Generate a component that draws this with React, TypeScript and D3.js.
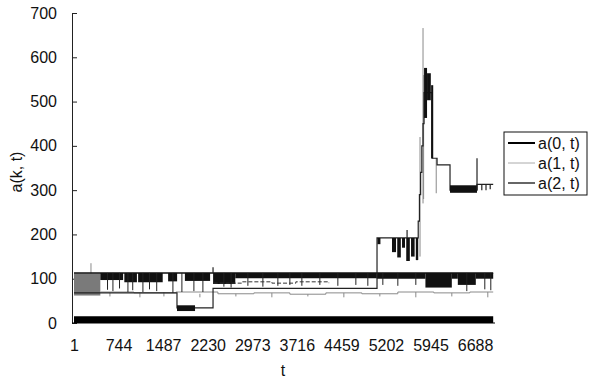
import { useEffect, useRef } from "react";
import * as d3 from "d3";

const tTicks = [1, 744, 1487, 2230, 2973, 3716, 4459, 5202, 5945, 6688];
const yTicks = [0, 100, 200, 300, 400, 500, 600, 700];
const legendNames = ["a(0, t)", "a(1, t)", "a(2, t)"];

// a(0, t) stays close to zero: [tStart, tEnd, low, high]
const a0Bands = [[1, 6990, 0, 15]];

// a(1, t): dense start, then a thin trace near 70
const a1Bands = [[1, 440, 62, 112]];
const a1Trace = [
  [440, 70], [1000, 68], [1700, 70], [2400, 66], [3000, 68], [3600, 65],
  [4200, 68], [4800, 66], [5400, 70], [6000, 68], [6600, 70], [6990, 70],
];
// vertical excursions [t, from, to]
const a1Drops = [
  [284, 112, 135], [600, 68, 60], [1100, 68, 58], [1500, 70, 60], [2100, 66, 58],
  [2700, 66, 60], [3300, 68, 58], [3900, 65, 60], [4500, 68, 58], [5100, 66, 60],
  [5700, 70, 58], [6300, 68, 60], [6900, 70, 58],
  [5770, 150, 420], [5820, 270, 666], [5830, 280, 560], [6040, 372, 293],
];

// a(2, t): upper band that oscillates under 113
const upperTop = [[1, 113], [6990, 113]];
const upperBlocks = [
  [440, 820, 97], [840, 1050, 92], [1070, 1480, 92], [1570, 1720, 94],
  [1850, 2270, 95], [2320, 2690, 88], [2690, 5050, 101], [5050, 5860, 100],
  [5860, 6300, 80], [6300, 6400, 100], [6400, 6700, 86], [6700, 6990, 100],
];
const upperDips = [
  [560, 75], [650, 72], [760, 78], [900, 70], [980, 74], [1150, 70], [1260, 76],
  [1380, 72], [1650, 68], [1800, 70], [2000, 72], [2150, 70], [2500, 82], [2620, 80],
  [2900, 84], [3150, 82], [3400, 84], [3600, 86], [3800, 84], [4100, 86], [4400, 84],
  [4700, 86], [4900, 84], [5150, 86], [5400, 84], [5700, 86], [6550, 72], [6850, 76],
  [6950, 74],
];
const midTrace = [[2330, 90], [2800, 93], [3300, 90], [3700, 93], [4250, 90]];

// a(2, t): main step path [t, value]
const a2Steps = [
  [1, 68], [1718, 34], [2319, 78], [5053, 192], [5740, 230], [5760, 290],
  [5780, 340], [5800, 400], [5820, 450], [5837, 520], [5971, 372], [6054, 357],
  [6270, 300], [6720, 313], [6990, 313],
];
const a2Blocks = [
  [1718, 2019, 27, 40], [5060, 5110, 178, 192],
  [5303, 5370, 160, 192], [5390, 5450, 148, 192], [5470, 5520, 170, 192],
  [5540, 5600, 140, 192], [5620, 5680, 150, 192], [5700, 5740, 142, 192],
  [5837, 5887, 463, 576], [5887, 5950, 503, 564], [5955, 5990, 372, 537],
  [6270, 6720, 294, 311],
];
const a2Spikes = [
  [2319, 113, 126], [5554, 192, 210], [6720, 300, 372], [6800, 313, 300],
  [6870, 313, 300], [6940, 313, 302],
];

const FONT = "'Liberation Sans', Arial, sans-serif";

const App = () => {
  const svgRef = useRef<SVGSVGElement>(null);

  useEffect(() => {
    if (!svgRef.current) return;
    const svg = d3.select(svgRef.current);
    svg.selectAll("*").remove();

    const x = d3.scaleLinear().domain([1, 7020]).range([74, 495]);
    const y = d3.scaleLinear().domain([0, 700]).range([323, 13]);

    const band = d3
      .area<number[]>()
      .x((d) => x(d[0]))
      .y0((d) => y(d[1]))
      .y1((d) => y(d[2]));
    const line = d3
      .line<number[]>()
      .x((d) => x(d[0]))
      .y((d) => y(d[1]));
    const stepLine = d3
      .line<number[]>()
      .x((d) => x(d[0]))
      .y((d) => y(d[1]))
      .curve(d3.curveStepAfter);

    const drawBands = (rows: number[][], color: string) => {
      svg
        .append("g")
        .selectAll("path")
        .data(rows)
        .join("path")
        .attr("d", (r) => band([[r[0], r[2], r[3]], [r[1], r[2], r[3]]]))
        .attr("fill", color);
    };
    const drawVerticals = (rows: number[][], color: string, w: number) => {
      svg
        .append("g")
        .selectAll("path")
        .data(rows)
        .join("path")
        .attr("d", (r) => line([[r[0], r[1]], [r[0], r[2]]]))
        .attr("stroke", color)
        .attr("stroke-width", w)
        .attr("fill", "none");
    };

    // axes
    svg
      .append("g")
      .attr("transform", "translate(72,0)")
      .call(d3.axisLeft(y).tickValues(yTicks).tickSizeInner(-5).tickSizeOuter(0).tickPadding(15))
      .call((g) => g.selectAll("text").attr("font-size", 16).attr("font-family", FONT).attr("fill", "#111"))
      .call((g) => g.selectAll("line,path").attr("stroke", "#222"));
    svg
      .append("g")
      .attr("transform", "translate(0,323)")
      .call(d3.axisBottom(x).tickValues(tTicks).tickFormat(d3.format("d")).tickSize(0).tickPadding(17))
      .call((g) => g.select(".domain").remove())
      .call((g) => g.selectAll("text").attr("font-size", 16).attr("font-family", FONT).attr("fill", "#111"));
    svg
      .append("line")
      .attr("x1", 72).attr("x2", 495).attr("y1", y(0)).attr("y2", y(0))
      .attr("stroke", "#000");

    svg
      .append("text")
      .attr("x", 283).attr("y", 370)
      .attr("text-anchor", "middle").attr("dominant-baseline", "central")
      .attr("font-size", 16).attr("font-family", FONT).attr("fill", "#111")
      .text("t");
    svg
      .append("text")
      .attr("transform", "translate(16,172) rotate(-90)")
      .attr("text-anchor", "middle").attr("dominant-baseline", "central")
      .attr("font-size", 16).attr("font-family", FONT).attr("fill", "#111")
      .text("a(k, t)");

    // a(1, t)
    drawBands(a1Bands, "#7a7a7a");
    svg.append("path").attr("d", stepLine(a1Trace)).attr("stroke", "#8a8a8a").attr("fill", "none");
    drawVerticals(a1Drops, "#8a8a8a", 1);

    // a(2, t) upper band
    svg.append("path").attr("d", stepLine(upperTop)).attr("stroke", "#111").attr("stroke-width", 1.5).attr("fill", "none");
    drawBands(upperBlocks.map((r) => [r[0], r[1], r[2], 113]), "#111");
    drawVerticals(upperDips.map((r) => [r[0], 113, r[1]]), "#222", 1);
    svg.append("path").attr("d", stepLine(midTrace)).attr("stroke", "#333").attr("stroke-dasharray", "4,2").attr("fill", "none");

    // a(2, t) main path
    svg.append("path").attr("d", stepLine(a2Steps)).attr("stroke", "#222").attr("stroke-width", 1.2).attr("fill", "none");
    drawBands(a2Blocks, "#111");
    drawVerticals(a2Spikes, "#222", 1.2);

    // a(0, t)
    drawBands(a0Bands, "#000");

    // legend
    const lg = svg.append("g");
    lg.append("rect")
      .attr("x", 504).attr("y", 132).attr("width", 83).attr("height", 63)
      .attr("fill", "#fff").attr("stroke", "#111");
    const colors = ["#000", "#aaa", "#333"];
    const widths = [2, 1, 1.5];
    legendNames.forEach((name, i) => {
      const ly = 143 + i * 20;
      lg.append("line")
        .attr("x1", 508).attr("x2", 535).attr("y1", ly).attr("y2", ly)
        .attr("stroke", colors[i]).attr("stroke-width", widths[i]);
      lg.append("text")
        .attr("x", 538).attr("y", ly)
        .attr("dominant-baseline", "central")
        .attr("font-size", 16).attr("font-family", FONT).attr("fill", "#111")
        .text(name);
    });
  }, []);

  return (
    <svg
      ref={svgRef}
      width={589}
      height={380}
      style={{ position: "absolute", left: 0, top: 0, background: "#fff" }}
    ></svg>
  );
};

export default App;
